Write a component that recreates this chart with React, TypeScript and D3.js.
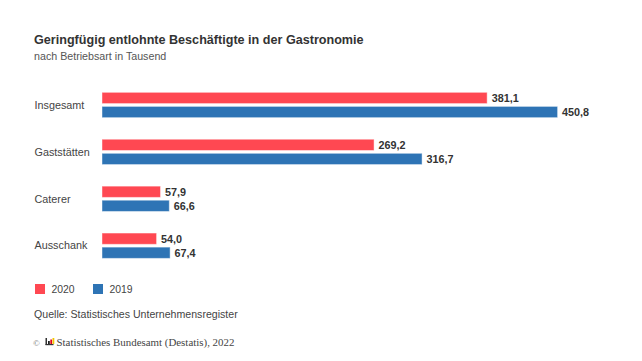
import React from 'react';
import { scaleBand, scaleLinear, formatLocale } from 'd3';

const width = 642;
const height = 361;

const categories = ['Insgesamt', 'Gaststätten', 'Caterer', 'Ausschank'];
const series = ['2020', '2019'];
const values2020 = [381.1, 269.2, 57.9, 54.0];
const values2019 = [450.8, 316.7, 66.6, 67.4];

const colors = ['#FF4852', '#2E74B5'];

const title = 'Geringfügig entlohnte Beschäftigte in der Gastronomie';
const subtitle = 'nach Betriebsart in Tausend';
const source = 'Quelle: Statistisches Unternehmensregister';
const copyright = 'Statistisches Bundesamt (Destatis), 2022';

const sans = '"Liberation Sans", Arial, sans-serif';
const serif = '"Liberation Serif", "Times New Roman", serif';

const de = formatLocale({ decimal: ',', thousands: '.', grouping: [3], currency: ['', ' €'] });
const fmt = de.format('.1f');

const x = scaleLinear().domain([0, 450.8]).range([102, 557.6]);

const y = scaleBand()
    .domain(categories)
    .range([80.6, 270.1])
    .paddingInner(0.46)
    .paddingOuter(0.25);

const ySeries = scaleBand()
    .domain(series)
    .range([0, y.bandwidth()])
    .paddingInner(0.2);

const seriesValues = [values2020, values2019];

export default function App() {
    return (
        <svg width={width} height={height}
            style={{ position: 'absolute', left: 0, top: 0, background: '#fff' }}>
            <text x={34} y={43.5} fontFamily={sans} fontSize={12.6} fontWeight="bold" fill="#333">{title}</text>
            <text x={34} y={60} fontFamily={sans} fontSize={10.7} fill="#555">{subtitle}</text>

            {categories.map((cat, i) => (
                <g key={cat} transform={`translate(0,${y(cat)})`}>
                    <text x={34.5} y={y.bandwidth() / 2} dy="0.35em"
                        fontFamily={sans} fontSize={10.8} fill="#444">{cat}</text>
                    {series.map((s, j) => {
                        const v = seriesValues[j][i];
                        const by = ySeries(s);
                        return (
                            <g key={s}>
                                <rect x={x(0)} y={by} width={x(v) - x(0)} height={ySeries.bandwidth()}
                                    fill={colors[j]} stroke="#fff" strokeOpacity={0.45} strokeWidth={1} />
                                <text x={x(v) + 4.5} y={by + ySeries.bandwidth() / 2} dy="0.36em"
                                    fontFamily={sans} fontSize={10.8} fontWeight="bold" fill="#333">{fmt(v)}</text>
                            </g>
                        );
                    })}
                </g>
            ))}

            {series.map((s, j) => (
                <g key={s} transform={`translate(${35 + j * 58},284)`}>
                    <rect width={10} height={10} fill={colors[j]} />
                    <text x={16.5} y={9} fontFamily={sans} fontSize={10.4} fill="#444">{s}</text>
                </g>
            ))}

            <text x={34} y={317.5} fontFamily={sans} fontSize={10.6} fill="#444">{source}</text>

            <text x={33} y={346} fontFamily={serif} fontSize={9} fill="#777">©</text>
            <g transform="translate(45.5,338)">
                <rect x={0} y={0} width={1.5} height={7} fill="#333" />
                <rect x={0} y={6} width={8} height={1.2} fill="#333" />
                <rect x={2.5} y={3} width={1.8} height={3} fill="#222" />
                <rect x={4.8} y={1.5} width={1.8} height={4.5} fill="#e3001b" />
                <rect x={7} y={0} width={1.8} height={6} fill="#f2c500" />
            </g>
            <text x={56.5} y={346} fontFamily={serif} fontSize={10.9} fill="#444">{copyright}</text>
        </svg>
    );
}
